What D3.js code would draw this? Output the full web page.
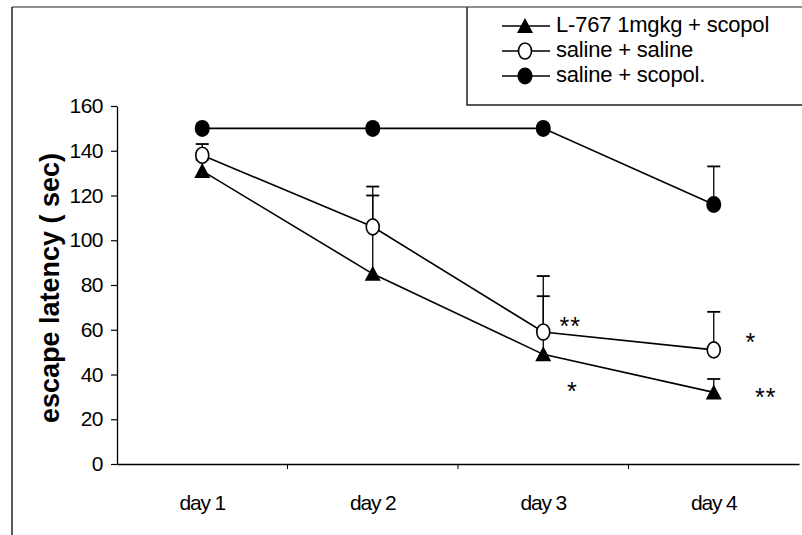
<!DOCTYPE html>
<html>
<head>
<meta charset="utf-8">
<script src="https://cdn.jsdelivr.net/npm/d3@7"></script>
<style>
  html, body { margin: 0; padding: 0; background: #fff; }
  svg { display: block; font-family: "Liberation Sans", Arial, sans-serif; }
</style>
</head>
<body>
<svg id="chart" width="802" height="535"></svg>
<script>
// ---- data ----
const days = ["day 1", "day 2", "day 3", "day 4"];
const yTicks = [0, 20, 40, 60, 80, 100, 120, 140, 160];
const seriesNames = ["L-767 1mgkg + scopol", "saline + saline", "saline + scopol."];
const l767 = [131, 85, 49, 32];
const l767Err = [136, 120, 75, 38];
const salSal = [138, 106, 59, 51];
const salSalErr = [143, 124, 84, 68];
const salScop = [150, 150, 150, 116];
const salScopErr = [150, 150, 150, 133];
const stars = [
  { day: "day 3", value: 62, text: "**" },
  { day: "day 3", value: 33, text: "*" },
  { day: "day 4", value: 55, text: "*" },
  { day: "day 4", value: 30, text: "**" }
];
const starOffsets = [27, 29, 37, 52];

// ---- layout ----
const svg = d3.select("#chart");
const x = d3.scaleBand().domain(days).range([117, 799]);
const y = d3.scaleLinear().domain([0, 160]).range([464, 106]);
const cx = d => x(d) + x.bandwidth() / 2;

// outer scan frame
svg.append("line").attr("x1", 12).attr("x2", 12).attr("y1", 7).attr("y2", 535)
  .attr("stroke", "#222").attr("stroke-width", 1.5);
svg.append("line").attr("x1", 12).attr("x2", 802).attr("y1", 7).attr("y2", 7)
  .attr("stroke", "#222").attr("stroke-width", 1.2);

// y axis
const yAxis = svg.append("g").attr("transform", "translate(117,0)")
  .call(d3.axisLeft(y).tickValues(yTicks).tickSize(6).tickSizeOuter(0).tickPadding(8));
yAxis.select(".domain").attr("stroke", "#000").attr("stroke-width", 1.3);
yAxis.selectAll(".tick line").attr("stroke", "#000").attr("stroke-width", 1.2);
yAxis.selectAll(".tick text").attr("font-size", 21).attr("fill", "#000")
  .attr("font-family", "Liberation Sans, Arial, sans-serif")
  .attr("letter-spacing", -0.5);

// x axis
const xAxis = svg.append("g").attr("transform", "translate(0,464)")
  .call(d3.axisBottom(x).tickSize(0).tickSizeOuter(0).tickPadding(31));
xAxis.select(".domain").attr("stroke", "#000").attr("stroke-width", 1.3);
xAxis.selectAll(".tick text").attr("font-size", 21).attr("fill", "#000")
  .attr("font-family", "Liberation Sans, Arial, sans-serif")
  .attr("letter-spacing", -1.2);
xAxis.selectAll(".sep").data(days.slice(1)).join("line").attr("class", "sep")
  .attr("x1", d => x(d)).attr("x2", d => x(d)).attr("y1", 0).attr("y2", 5)
  .attr("stroke", "#000").attr("stroke-width", 1);

// y label
svg.append("text")
  .attr("transform", "translate(59,288) rotate(-90)")
  .attr("text-anchor", "middle")
  .attr("font-size", 27).attr("font-weight", "bold")
  .text("escape latency ( sec)");

// error bars (upward only)
function errBars(vals, errs) {
  const g = svg.append("g");
  days.forEach((d, i) => {
    if (errs[i] <= vals[i]) return;
    g.append("line").attr("x1", cx(d)).attr("x2", cx(d))
      .attr("y1", y(vals[i])).attr("y2", y(errs[i]))
      .attr("stroke", "#000").attr("stroke-width", 1.3);
    g.append("line").attr("x1", cx(d) - 6.5).attr("x2", cx(d) + 6.5)
      .attr("y1", y(errs[i])).attr("y2", y(errs[i]))
      .attr("stroke", "#000").attr("stroke-width", 1.8);
  });
}
errBars(l767, l767Err);
errBars(salSal, salSalErr);
errBars(salScop, salScopErr);

// lines
const line = d3.line().x((v, i) => cx(days[i])).y(v => y(v));
[l767, salSal, salScop].forEach(s => {
  svg.append("path").attr("d", line(s)).attr("fill", "none")
    .attr("stroke", "#000").attr("stroke-width", 1.6);
});

// markers
function tri(px, py) {
  return `M${px},${py - 8} L${px + 8},${py + 7} L${px - 8},${py + 7} Z`;
}
svg.append("g").selectAll("path").data(l767).join("path")
  .attr("d", (v, i) => tri(cx(days[i]), y(v))).attr("fill", "#000");
svg.append("g").selectAll("ellipse").data(salSal).join("ellipse")
  .attr("cx", (v, i) => cx(days[i])).attr("cy", v => y(v))
  .attr("rx", 6.5).attr("ry", 8).attr("fill", "#fff").attr("stroke", "#000").attr("stroke-width", 1.6);
svg.append("g").selectAll("ellipse").data(salScop).join("ellipse")
  .attr("cx", (v, i) => cx(days[i])).attr("cy", v => y(v))
  .attr("rx", 7.5).attr("ry", 8.5).attr("fill", "#000");

// significance stars
svg.append("g").selectAll("text").data(stars).join("text")
  .attr("x", (s, i) => cx(s.day) + starOffsets[i]).attr("y", s => y(s.value) + 3)
  .attr("font-size", 25).attr("text-anchor", "middle").attr("dominant-baseline", "middle")
  .attr("letter-spacing", 1)
  .text(s => s.text);

// legend
const lg = svg.append("g");
lg.append("path").attr("d", "M467,7 L467,105 L802,105")
  .attr("fill", "none").attr("stroke", "#222").attr("stroke-width", 1.5);
const rows = [26, 51, 76];
seriesNames.forEach((n, i) => {
  const yy = rows[i];
  lg.append("line").attr("x1", 502).attr("x2", 550).attr("y1", yy).attr("y2", yy)
    .attr("stroke", "#000").attr("stroke-width", 1.6);
  if (i === 0) lg.append("path").attr("d", tri(525, yy)).attr("fill", "#000");
  else if (i === 1) lg.append("ellipse").attr("cx", 525).attr("cy", yy).attr("rx", 6.5).attr("ry", 8)
    .attr("fill", "#fff").attr("stroke", "#000").attr("stroke-width", 1.6);
  else lg.append("ellipse").attr("cx", 525).attr("cy", yy).attr("rx", 7.5).attr("ry", 8.5).attr("fill", "#000");
  lg.append("text").attr("x", 556).attr("y", yy).attr("dominant-baseline", "middle")
    .attr("font-size", 22).attr("letter-spacing", -0.2).text(n);
});
</script>
</body>
</html>
